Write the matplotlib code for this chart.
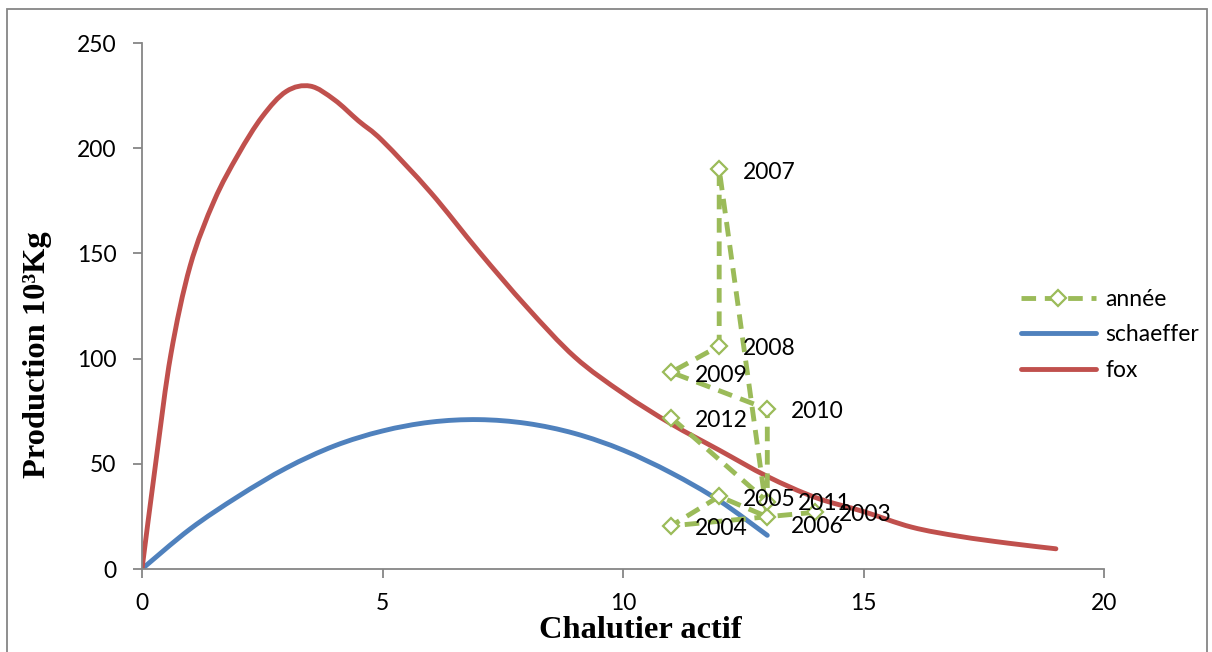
import numpy as np
import matplotlib.pyplot as plt
from matplotlib.patches import Rectangle, PathPatch
from matplotlib.path import Path
from matplotlib.lines import Line2D

# fox model curve
fox_x = [0, 0.3, 0.6, 1, 1.5, 2, 2.5, 3, 3.5, 4, 4.5, 5,
         6, 7, 8, 9, 10, 11, 12, 13, 14, 15, 16, 17, 18, 19]
fox_y = [0, 53, 102, 144, 175, 197, 215, 227, 229.5, 223, 213, 203.5,
         179, 151, 124.5, 100.7, 83.5, 69, 56.5, 44, 34, 27.3, 19.9, 15.5, 12.3, 9.6]

# schaeffer model curve
sch_x = [0, 1, 2, 3, 4, 5, 6, 7, 8, 9, 10, 11, 12, 13]
sch_y = [0, 19, 34.5, 48, 58.5, 65.6, 69.8, 71, 69.2, 64.4, 56.5, 45.7, 32.5, 16]

# observed years
years = ['2003', '2004', '2005', '2006', '2007', '2008', '2009', '2010', '2011', '2012']
obs_x = [14, 11, 12, 13, 12, 12, 11, 13, 13, 11]
obs_y = [27, 20.5, 34.5, 24.8, 190, 106, 93.5, 76, 32, 72]

# small label nudges (points) to mimic the original layout
nudge = {'2006': (0, -5), '2011': (5, 1)}

GREEN = '#9BBB59'
BLUE = '#4F81BD'
RED = '#C0504D'
GREY = '#868686'
FONT = 'Lato'
LW = 3.5


def smooth_path(xs, ys):
    # Excel-like smoothed line: cubic bezier segments through the points
    p = np.column_stack([xs, ys]).astype(float)
    verts = [p[0]]
    codes = [Path.MOVETO]
    n = len(p)
    for i in range(n - 1):
        p0 = p[i - 1] if i > 0 else p[i]
        p3 = p[i + 2] if i + 2 < n else p[i + 1]
        c1 = p[i] + (p[i + 1] - p0) / 6
        c2 = p[i + 1] - (p3 - p[i]) / 6
        verts += [c1, c2, p[i + 1]]
        codes += [Path.CURVE4] * 3
    return Path(verts, codes)


fig = plt.figure(figsize=(12.12, 6.52), dpi=100)
ax = fig.add_axes([142 / 1212, 1 - 569 / 652, 962 / 1212, 526 / 652])

ax.plot(obs_x, obs_y, color=GREEN, lw=LW, ls=(0, (3.0, 1.8)), marker='D',
        markersize=8.5, markerfacecolor='white', markeredgecolor=GREEN,
        markeredgewidth=1.6, zorder=3)
ax.add_patch(PathPatch(smooth_path(sch_x, sch_y), fill=False, edgecolor=BLUE,
                       lw=LW, capstyle='round', zorder=2))
ax.add_patch(PathPatch(smooth_path(fox_x, fox_y), fill=False, edgecolor=RED,
                       lw=LW, capstyle='round', zorder=2))

for yr, x, y in zip(years, obs_x, obs_y):
    dx, dy = nudge.get(yr, (0, 0))
    ax.annotate(yr, (x, y), xytext=(17 + dx, dy - 2), textcoords='offset points',
                ha='left', va='center', fontsize=16.5, family=FONT, zorder=4)

ax.set_xlim(0, 20)
ax.set_ylim(0, 250)
ax.set_xticks([0, 5, 10, 15, 20])
ax.set_yticks([0, 50, 100, 150, 200, 250])

for s in ['top', 'right']:
    ax.spines[s].set_visible(False)
for s in ['left', 'bottom']:
    ax.spines[s].set_color(GREY)
    ax.spines[s].set_linewidth(1.3)
ax.tick_params(axis='both', direction='out', length=6.5, width=1.3, color=GREY,
               labelsize=16.5, pad=12)
ax.tick_params(axis='x', pad=11)
for lab in ax.get_xticklabels() + ax.get_yticklabels():
    lab.set_family(FONT)

ax.set_xlabel('Chalutier actif', fontsize=23.4, fontweight='bold', family='Liberation Serif')
ax.set_ylabel('Production 10³Kg', fontsize=23.4, fontweight='bold', family='Liberation Serif')
ax.xaxis.set_label_coords(0.518, -0.089)
ax.yaxis.set_label_coords(-0.094, 0.407)

handles = [
    Line2D([], [], color=GREEN, lw=LW, ls=(0, (3.0, 1.8)), marker='D', markersize=8.5,
           markerfacecolor='white', markeredgecolor=GREEN, markeredgewidth=1.6),
    Line2D([], [], color=BLUE, lw=LW, solid_capstyle='round'),
    Line2D([], [], color=RED, lw=LW, solid_capstyle='round'),
]
leg = ax.legend(handles, ['année', 'schaeffer', 'fox'], loc='center left',
                bbox_to_anchor=(1000 / 1212, 1 - 335 / 652),
                bbox_transform=fig.transFigure, frameon=False, handlelength=3.3,
                handletextpad=0.4, labelspacing=0.62, prop={'family': FONT, 'size': 16.5})

fig.patches.append(Rectangle((7 / 1212, -0.05), 1200 / 1212, 1.05 - 9 / 652,
                             transform=fig.transFigure, fill=False,
                             edgecolor=GREY, lw=1.3))

fig.savefig('out.png', dpi=100)
